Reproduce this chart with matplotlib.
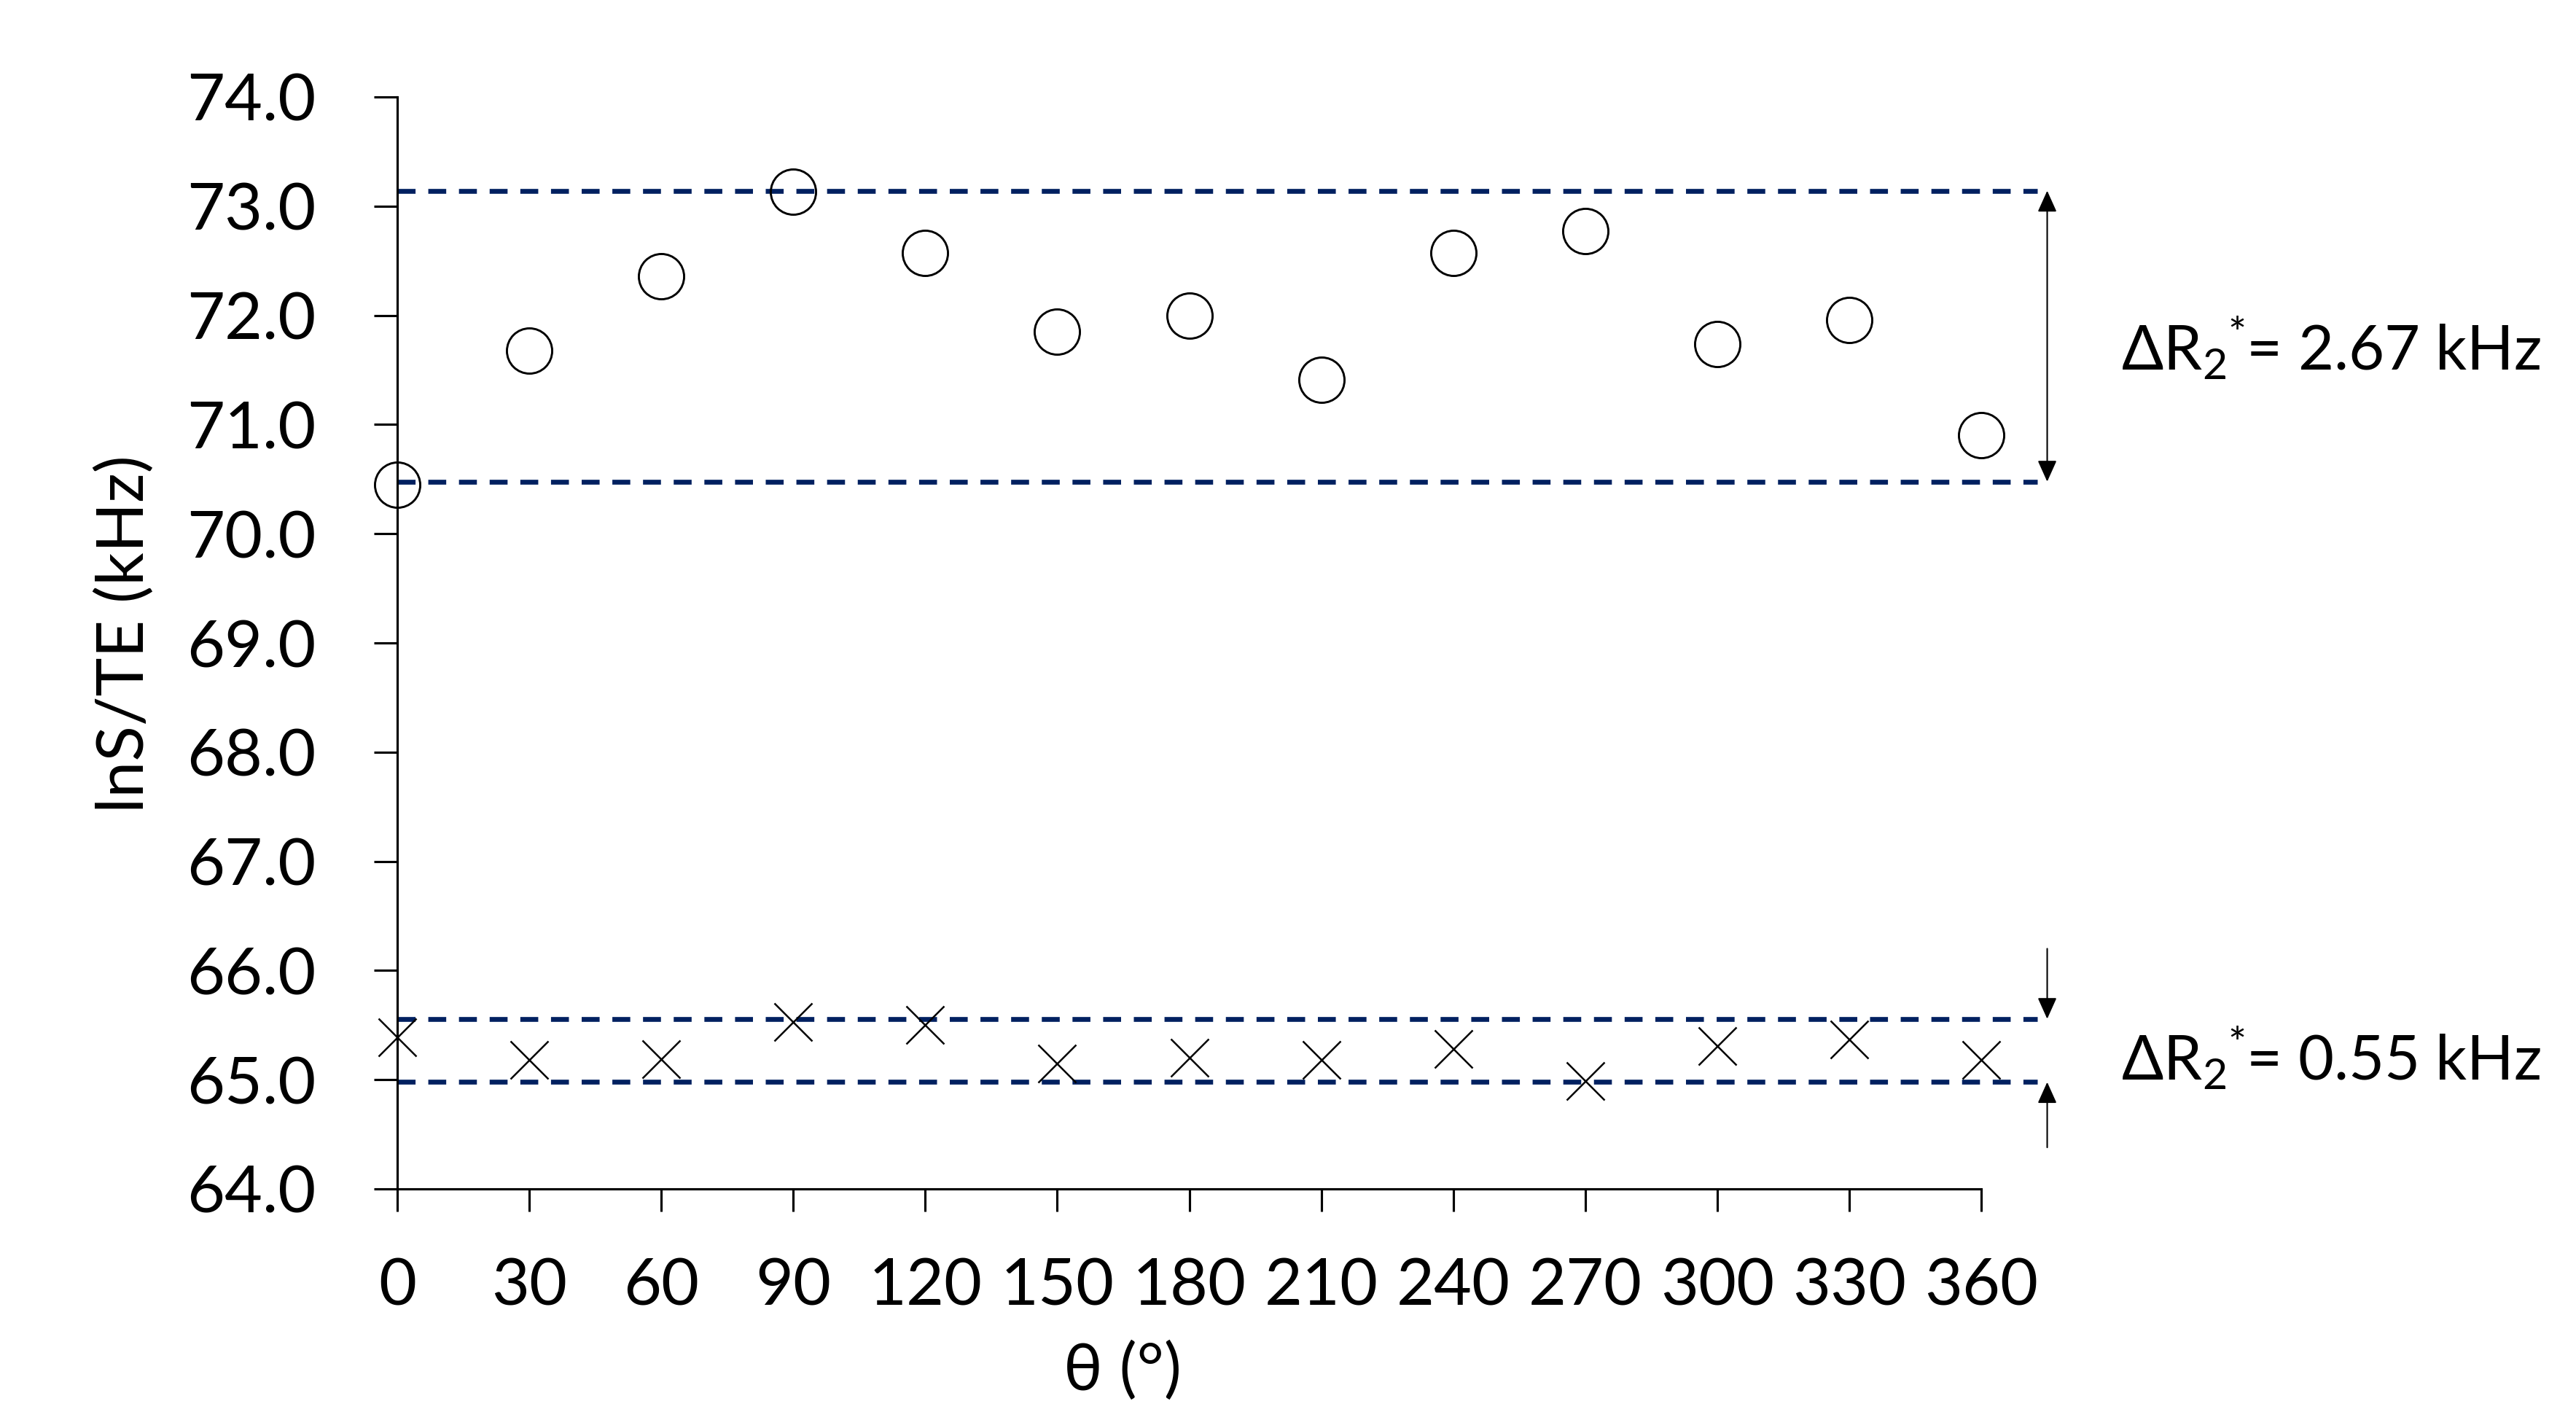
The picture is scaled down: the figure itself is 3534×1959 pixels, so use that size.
import matplotlib
matplotlib.use("Agg")
import matplotlib.pyplot as plt

plt.rcParams['font.family'] = ['Lato', 'DejaVu Sans']
plt.rcParams['mathtext.fontset'] = 'custom'
plt.rcParams['mathtext.rm'] = 'Lato'
plt.rcParams['mathtext.default'] = 'regular'

# ---- data ----
theta = [0, 30, 60, 90, 120, 150, 180, 210, 240, 270, 300, 330, 360]
circles = [70.45, 71.68, 72.36, 73.13, 72.57, 71.85, 72.00, 71.41, 72.57, 72.77, 71.74, 71.96, 70.90]
crosses = [65.39, 65.18, 65.19, 65.53, 65.50, 65.15, 65.20, 65.18, 65.28, 64.99, 65.31, 65.37, 65.18]
circle_range = [70.477, 73.141]
cross_range = [64.978, 65.557]
labels = [r'ΔR$_2$$\!^*$$\!$= 2.67 kHz', r'ΔR$_2$$\!^*$$\!$= 0.55 kHz']
yticks = [64, 65, 66, 67, 68, 69, 70, 71, 72, 73, 74]
xticks = [0, 30, 60, 90, 120, 150, 180, 210, 240, 270, 300, 330, 360]

W, H = 3534, 1959
fig = plt.figure(figsize=(W / 300, H / 300), dpi=300)
ax = fig.add_axes([545 / W, 1 - 1631 / H, (2718 - 545) / W, (1631 - 133) / H])
ax.set_xlim(0, 360)
ax.set_ylim(64, 74)
for s in ['top', 'right']:
    ax.spines[s].set_visible(False)
for s in ['left', 'bottom']:
    ax.spines[s].set_linewidth(0.75)

FS = 21.5
ax.set_yticks(yticks)
ax.set_yticklabels([f'{v:.1f}' for v in yticks])
ax.set_xticks(xticks)
ax.set_xticklabels([str(v) for v in xticks])
ax.tick_params(axis='y', direction='out', length=7.8, width=0.75, pad=19, labelsize=FS)
ax.tick_params(axis='x', direction='out', length=7.5, width=0.75, pad=15, labelsize=FS)

navy = '#002060'
lw = 1.6
for y in circle_range + cross_range:
    ax.plot([0, 372.8], [y, y], color=navy, lw=lw, dashes=(5.9 / lw, 4.2 / lw),
            clip_on=False, zorder=2)

ax.plot(theta, circles, linestyle='none', marker='o', ms=14.9, mfc='none',
        mec='black', mew=0.7, clip_on=False, zorder=3)
ax.plot(theta, crosses, linestyle='none', marker='x', ms=12.3,
        mec='black', mew=0.6, clip_on=False, zorder=3)

arrow_x = 375
head = '-|>,head_length=0.6,head_width=0.27'
ax.annotate('', xy=(arrow_x, circle_range[1]), xytext=(arrow_x, circle_range[0]),
            arrowprops=dict(arrowstyle='<|-|>,head_length=0.6,head_width=0.27',
                            color='black', lw=0.5, shrinkA=0, shrinkB=0,
                            mutation_scale=10), annotation_clip=False)
ax.annotate('', xy=(arrow_x, cross_range[1]), xytext=(arrow_x, 66.20),
            arrowprops=dict(arrowstyle=head, color='black', lw=0.5, shrinkA=0,
                            shrinkB=0, mutation_scale=10), annotation_clip=False)
ax.annotate('', xy=(arrow_x, cross_range[0]), xytext=(arrow_x, 64.38),
            arrowprops=dict(arrowstyle=head, color='black', lw=0.5, shrinkA=0,
                            shrinkB=0, mutation_scale=10), annotation_clip=False)

FA = 20.3
ax.text(391.8, 71.70, labels[0], fontsize=FA, ha='left', va='center', clip_on=False)
ax.text(391.8, 65.20, labels[1], fontsize=FA, ha='left', va='center', clip_on=False)

fig.text(172 / W, 1 - 870 / H, 'lnS/TE (kHz)', rotation=90, fontsize=FS,
         ha='center', va='center')
fig.text(1540 / W, 1 - 1882 / H, 'θ (°)', fontsize=FS, ha='center', va='center')

fig.savefig('out.png', dpi=300, facecolor='white')
